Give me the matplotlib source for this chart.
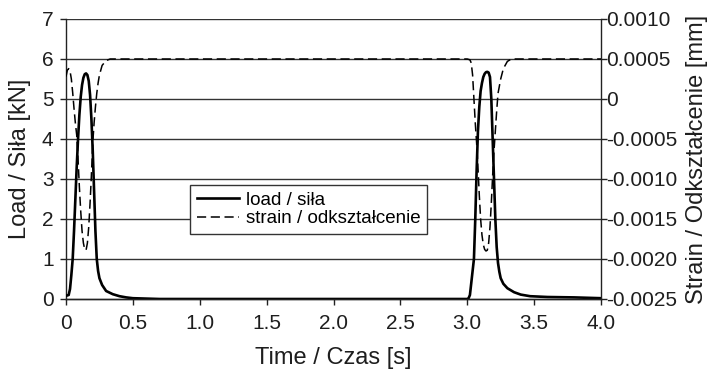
import matplotlib
matplotlib.use("Agg")
import matplotlib.pyplot as plt
from matplotlib.ticker import FixedLocator, FixedFormatter

plt.rcParams['font.family'] = ['Liberation Sans', 'DejaVu Sans']

# Load / siła [kN]
load_t = [0.00, 0.02, 0.03, 0.04, 0.05, 0.06, 0.07, 0.08, 0.09, 0.10, 0.11, 0.12,
          0.13, 0.14, 0.15, 0.16, 0.17, 0.18, 0.19, 0.20, 0.21, 0.22, 0.23, 0.24,
          0.25, 0.27, 0.30, 0.35, 0.40, 0.45, 0.50, 0.60, 0.70, 3.00, 3.01, 3.02,
          3.03, 3.04, 3.05, 3.06, 3.07, 3.08, 3.09, 3.10, 3.11, 3.12, 3.13, 3.14,
          3.15, 3.16, 3.17, 3.18, 3.19, 3.20, 3.21, 3.22, 3.23, 3.24, 3.25, 3.27,
          3.30, 3.35, 3.40, 3.47, 3.60, 3.80, 4.00]
load_v = [0.08, 0.10, 0.25, 0.60, 1.00, 1.70, 2.50, 3.30, 4.00, 4.60, 5.05, 5.35,
          5.53, 5.62, 5.64, 5.60, 5.45, 5.10, 4.50, 3.70, 2.70, 1.70, 1.00, 0.70,
          0.52, 0.35, 0.20, 0.12, 0.07, 0.04, 0.02, 0.01, 0.00, 0.00, 0.02, 0.10,
          0.40, 0.70, 1.00, 2.00, 3.20, 4.20, 4.80, 5.20, 5.40, 5.55, 5.63, 5.67,
          5.68, 5.66, 5.55, 5.00, 4.00, 3.00, 2.00, 1.30, 0.90, 0.68, 0.52, 0.38,
          0.27, 0.17, 0.11, 0.07, 0.05, 0.04, 0.02]

# Strain / odkształcenie [mm]
strain_t = [0.00, 0.01, 0.02, 0.03, 0.04, 0.05, 0.06, 0.07, 0.08, 0.09, 0.10, 0.11,
            0.12, 0.13, 0.14, 0.15, 0.16, 0.17, 0.18, 0.19, 0.20, 0.21, 0.22, 0.23,
            0.24, 0.25, 0.27, 0.30, 0.33, 3.00, 3.02, 3.03, 3.04, 3.05, 3.06, 3.07,
            3.08, 3.09, 3.10, 3.11, 3.12, 3.13, 3.14, 3.15, 3.16, 3.17, 3.18, 3.19,
            3.20, 3.21, 3.22, 3.23, 3.25, 3.27, 3.30, 3.33, 4.00]
strain_v = [0.00028, 0.00036, 0.00038, 0.00035, 0.00025, 0.00008, -0.00012, -0.00030,
            -0.00045, -0.00075, -0.00110, -0.00140, -0.00165, -0.00180, -0.00188,
            -0.00189, -0.00180, -0.00160, -0.00130, -0.00095, -0.00055, -0.00030,
            -0.00010, 0.00007, 0.00020, 0.00030, 0.00042, 0.00048, 0.00050, 0.00050,
            0.00049, 0.00045, 0.00030, 0.00000, -0.00030, -0.00055, -0.00085,
            -0.00120, -0.00150, -0.00170, -0.00182, -0.00188, -0.00190, -0.00189,
            -0.00180, -0.00160, -0.00130, -0.00095, -0.00065, -0.00040, -0.00015,
            0.00007, 0.00025, 0.00038, 0.00047, 0.00050, 0.00050]

x_ticks = [0, 0.5, 1.0, 1.5, 2.0, 2.5, 3.0, 3.5, 4.0]
x_labels = ['0', '0.5', '1.0', '1.5', '2.0', '2.5', '3.0', '3.5', '4.0']
left_ticks = [0, 1, 2, 3, 4, 5, 6, 7]
right_ticks = [-0.0025, -0.0020, -0.0015, -0.0010, -0.0005, 0.0, 0.0005, 0.0010]
right_labels = ['-0.0025', '-0.0020', '-0.0015', '-0.0010', '-0.0005', '0', '0.0005', '0.0010']

fig = plt.figure(figsize=(7.09, 3.71), dpi=100)
ax = fig.add_axes([66/709, 72/371, 535/709, 280/371])
ax2 = ax.twinx()

grid_c = '#333333'
txt_c = '#1e1e1e'
for yv in left_ticks[1:]:
    ax.axhline(yv, color=grid_c, lw=1.0, zorder=1)

l1, = ax.plot(load_t, load_v, color='black', lw=1.9, zorder=3, label='load / siła')
l2, = ax2.plot(strain_t, strain_v, color='black', lw=1.1, ls=(0, (6, 3)), zorder=3,
               label='strain / odkształcenie')

ax.set_xlim(0, 4.0)
ax.set_ylim(0, 7)
ax2.set_ylim(-0.0025, 0.0010)

ax.xaxis.set_major_locator(FixedLocator(x_ticks))
ax.xaxis.set_major_formatter(FixedFormatter(x_labels))
ax.yaxis.set_major_locator(FixedLocator(left_ticks))
ax2.yaxis.set_major_locator(FixedLocator(right_ticks))
ax2.yaxis.set_major_formatter(FixedFormatter(right_labels))

for a in (ax, ax2):
    a.spines['top'].set_visible(False)
    for s in a.spines.values():
        s.set_color('#222222')
        s.set_linewidth(1.0)
    a.tick_params(direction='out', length=4, width=1.0, color='#222222',
                  labelsize=15, labelcolor=txt_c)
ax.tick_params(axis='x', pad=7)
ax.tick_params(axis='y', pad=5)
ax2.tick_params(axis='y', pad=0)
ax2.spines['left'].set_visible(False)
ax.spines['right'].set_visible(False)

ax.set_xlabel('Time / Czas [s]', fontsize=17, color=txt_c, labelpad=10)
ax.set_ylabel('Load / Siła [kN]', fontsize=17, color=txt_c, labelpad=8)
ax2.set_ylabel('Strain / Odkształcenie [mm]', fontsize=17, color=txt_c, labelpad=6)

leg = ax2.legend(handles=[l1, l2], loc='lower left',
                 bbox_to_anchor=(0.232, 0.232, 0.442, 0.178), mode='expand',
                 fontsize=13.5, frameon=True, fancybox=False, framealpha=1,
                 edgecolor='#333333', borderpad=0.35, handlelength=2.25,
                 handletextpad=0.37, labelspacing=0.07, borderaxespad=0)
leg.get_frame().set_linewidth(1.0)
leg.set_zorder(10)

fig.savefig('out.png', dpi=100)
